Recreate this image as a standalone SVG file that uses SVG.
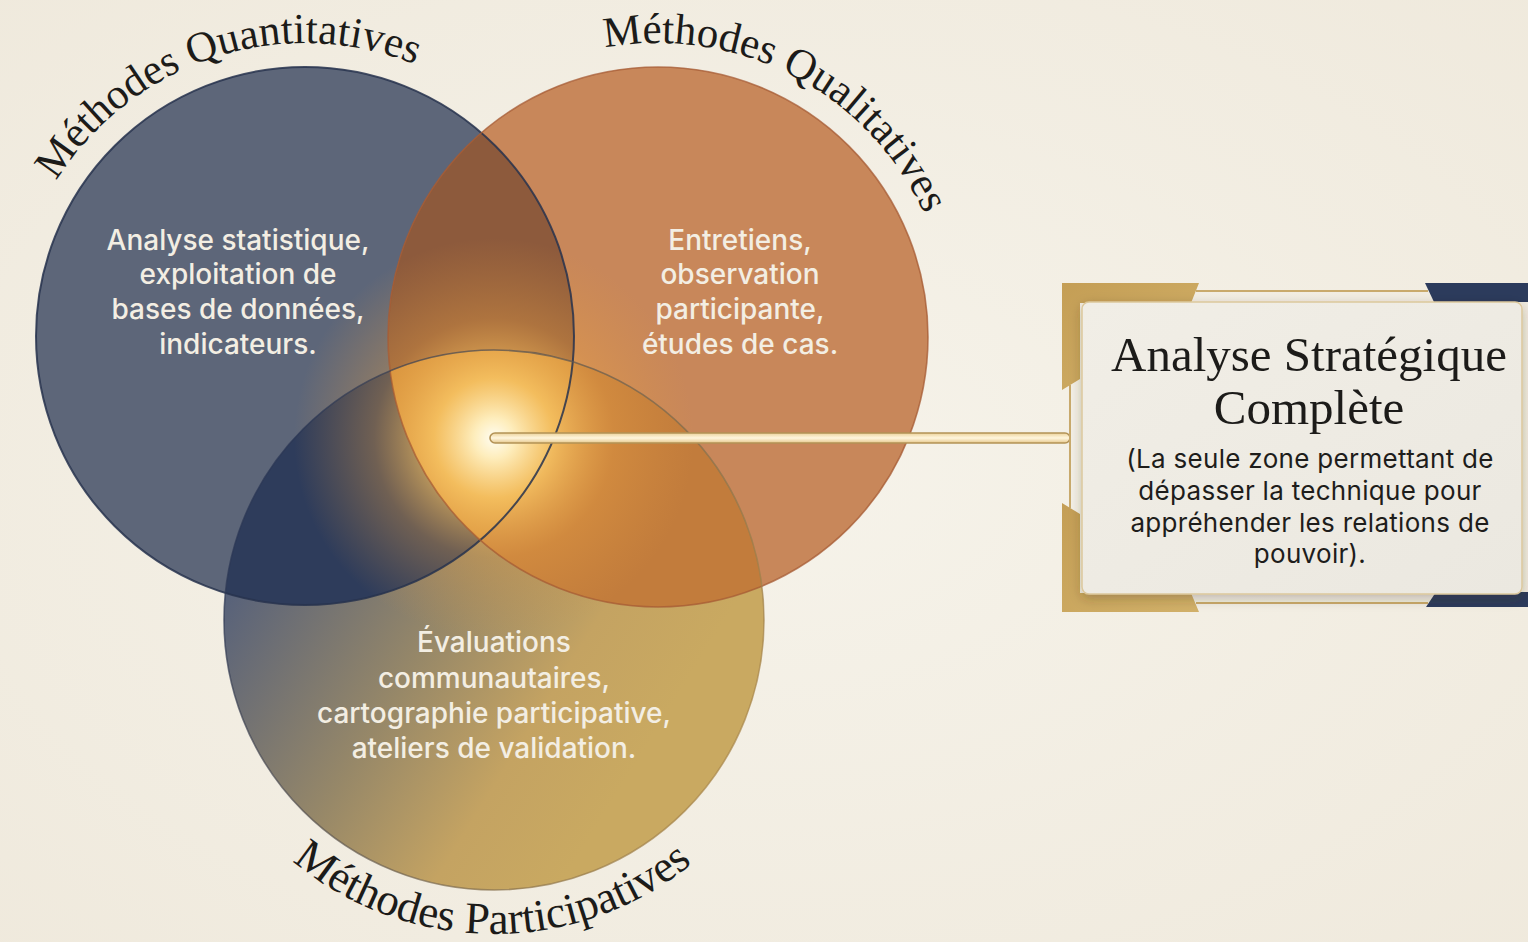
<svg xmlns="http://www.w3.org/2000/svg" width="1528" height="942" viewBox="0 0 1528 942">
<defs>
<style>
.lbl{font-family:"Liberation Serif","DejaVu Serif",serif;font-size:43px;fill:#1c1b19;}
.lblb{font-size:45px;}
.ctext{font-family:Inter,"Noto Sans","Liberation Sans",sans-serif;font-size:28px;font-weight:500;fill:#f3eee3;text-anchor:middle;}
.title{font-family:"Liberation Serif","DejaVu Serif",serif;font-size:49px;fill:#1c1b19;text-anchor:middle;}
.sub{font-family:Inter,"Noto Sans","Liberation Sans",sans-serif;font-size:26px;letter-spacing:0.3px;fill:#1e1d1b;text-anchor:middle;}
.gold{fill:url(#gBracket);}
.navy{fill:#2c3b5c;}
.thin{stroke:#c9aa6c;stroke-width:2;fill:none;}
</style>
<radialGradient id="bg" cx="50%" cy="50%" r="75%">
<stop offset="0" stop-color="#f6f3ea"/>
<stop offset="1" stop-color="#efe9dc"/>
</radialGradient>
<linearGradient id="gGold" gradientUnits="userSpaceOnUse" x1="250" y1="560" x2="620" y2="790">
<stop offset="0" stop-color="#58627a"/>
<stop offset="0.45" stop-color="#978868"/>
<stop offset="0.75" stop-color="#c4a362"/>
<stop offset="1" stop-color="#c9a961"/>
</linearGradient>
<linearGradient id="gGoldStroke" gradientUnits="userSpaceOnUse" x1="230" y1="560" x2="700" y2="800">
<stop offset="0" stop-color="#2a3654"/>
<stop offset="1" stop-color="#a8864a"/>
</linearGradient>
<radialGradient id="glow" gradientUnits="userSpaceOnUse" cx="494" cy="438" r="200">
<stop offset="0" stop-color="#fffdf2" stop-opacity="1"/>
<stop offset="0.1" stop-color="#fff0c0" stop-opacity="0.97"/>
<stop offset="0.3" stop-color="#fbc865" stop-opacity="0.8"/>
<stop offset="0.6" stop-color="#eba344" stop-opacity="0.35"/>
<stop offset="1" stop-color="#e09a40" stop-opacity="0"/>
</radialGradient>
<linearGradient id="gTube" x1="0" y1="0" x2="0" y2="1">
<stop offset="0" stop-color="#ecd29a"/>
<stop offset="0.5" stop-color="#fff6de"/>
<stop offset="1" stop-color="#e6c88c"/>
</linearGradient>
<linearGradient id="gBracket" x1="0" y1="0" x2="1" y2="1">
<stop offset="0" stop-color="#c49e55"/>
<stop offset="1" stop-color="#d2b169"/>
</linearGradient>
<linearGradient id="gPanel" x1="0" y1="0" x2="1" y2="1">
<stop offset="0" stop-color="#f1eee6"/>
<stop offset="1" stop-color="#ebe8e0"/>
</linearGradient>
<clipPath id="cBlue"><circle cx="305" cy="336" r="269"/></clipPath>
<clipPath id="cOrange"><circle cx="658" cy="337" r="270"/></clipPath>
<filter id="shadow" x="-10%" y="-10%" width="120%" height="125%">
<feDropShadow dx="0" dy="4" stdDeviation="6" flood-color="#3a3020" flood-opacity="0.28"/>
</filter>
<path id="pQuant" d="M 26.3 426.5 A 293 293 0 0 1 583.7 245.5"/>
<path id="pQual" d="M 398.1 200.7 A 293 293 0 0 1 917.9 471.3"/>
<path id="pPart" d="M 180 620 A 314 314 0 0 0 808 620"/>
</defs>

<rect width="1528" height="942" fill="url(#bg)"/>

<g id="venn">
<circle cx="305" cy="336" r="269" fill="#5d6679"/>
<circle cx="658" cy="337" r="270" fill="#c8875a"/>
<circle cx="494" cy="620" r="270" fill="url(#gGold)"/>
<g clip-path="url(#cBlue)">
<circle cx="658" cy="337" r="270" fill="#8d5a3c"/>
<circle cx="494" cy="620" r="270" fill="#2e3c5b"/>
</g>
<g clip-path="url(#cOrange)">
<circle cx="494" cy="620" r="270" fill="#c27c3c"/>
<g clip-path="url(#cBlue)">
<circle cx="494" cy="620" r="270" fill="#d3913f"/>
</g>
</g>
<circle cx="494" cy="438" r="200" fill="url(#glow)"/>
<circle cx="305" cy="336" r="269" fill="none" stroke="#27324d" stroke-width="2" stroke-opacity="0.85"/>
<circle cx="658" cy="337" r="270" fill="none" stroke="#a65b34" stroke-width="1.6" stroke-opacity="0.75"/>
<circle cx="494" cy="620" r="270" fill="none" stroke="url(#gGoldStroke)" stroke-width="1.6" stroke-opacity="0.7"/>
</g>

<g id="node-quant">
<text class="lbl"><textPath href="#pQuant" startOffset="50%" text-anchor="middle">Méthodes Quantitatives</textPath></text>
<text class="ctext" x="238" y="250">Analyse statistique,</text>
<text class="ctext" x="238" y="284">exploitation de</text>
<text class="ctext" x="238" y="319">bases de données,</text>
<text class="ctext" x="238" y="354">indicateurs.</text>
</g>

<g id="node-qual">
<text class="lbl"><textPath href="#pQual" startOffset="50%" text-anchor="middle">Méthodes Qualitatives</textPath></text>
<text class="ctext" x="740" y="250">Entretiens,</text>
<text class="ctext" x="740" y="284">observation</text>
<text class="ctext" x="740" y="319">participante,</text>
<text class="ctext" x="740" y="354">études de cas.</text>
</g>

<g id="node-part">
<text class="lbl lblb"><textPath href="#pPart" startOffset="49.8%" text-anchor="middle">Méthodes Participatives</textPath></text>
<text class="ctext" x="494" y="652">Évaluations</text>
<text class="ctext" x="494" y="688">communautaires,</text>
<text class="ctext" x="494" y="723">cartographie participative,</text>
<text class="ctext" x="494" y="758">ateliers de validation.</text>
</g>

<g id="connectors">
<rect x="490" y="433" width="580" height="10" rx="5" fill="url(#gTube)" stroke="#b39256" stroke-width="1.6"/>
</g>

<g id="node-analyse">
<line class="thin" x1="1196" y1="291" x2="1428" y2="291"/>
<line class="thin" x1="1196" y1="603" x2="1428" y2="603"/>
<line class="thin" x1="1070" y1="385" x2="1070" y2="508"/>
<polygon class="gold" points="1062,283 1199,283 1191,303 1080,303 1080,379 1062,390"/>
<polygon class="gold" points="1062,503 1080,514 1080,593 1191,593 1199,612 1062,612"/>
<polygon class="navy" points="1425,283 1528,283 1528,302 1434,302"/>
<polygon class="navy" points="1436,592 1528,592 1528,607 1426,607"/>
<rect x="1082" y="302" width="440" height="292" rx="7" fill="url(#gPanel)" stroke="#dcc89c" stroke-width="1.5" filter="url(#shadow)"/>
<text class="title" x="1309" y="371">Analyse Stratégique</text>
<text class="title" x="1309" y="424">Complète</text>
<text class="sub" x="1310" y="468">(La seule zone permettant de</text>
<text class="sub" x="1310" y="500">dépasser la technique pour</text>
<text class="sub" x="1310" y="532">appréhender les relations de</text>
<text class="sub" x="1310" y="563">pouvoir).</text>
</g>
</svg>
